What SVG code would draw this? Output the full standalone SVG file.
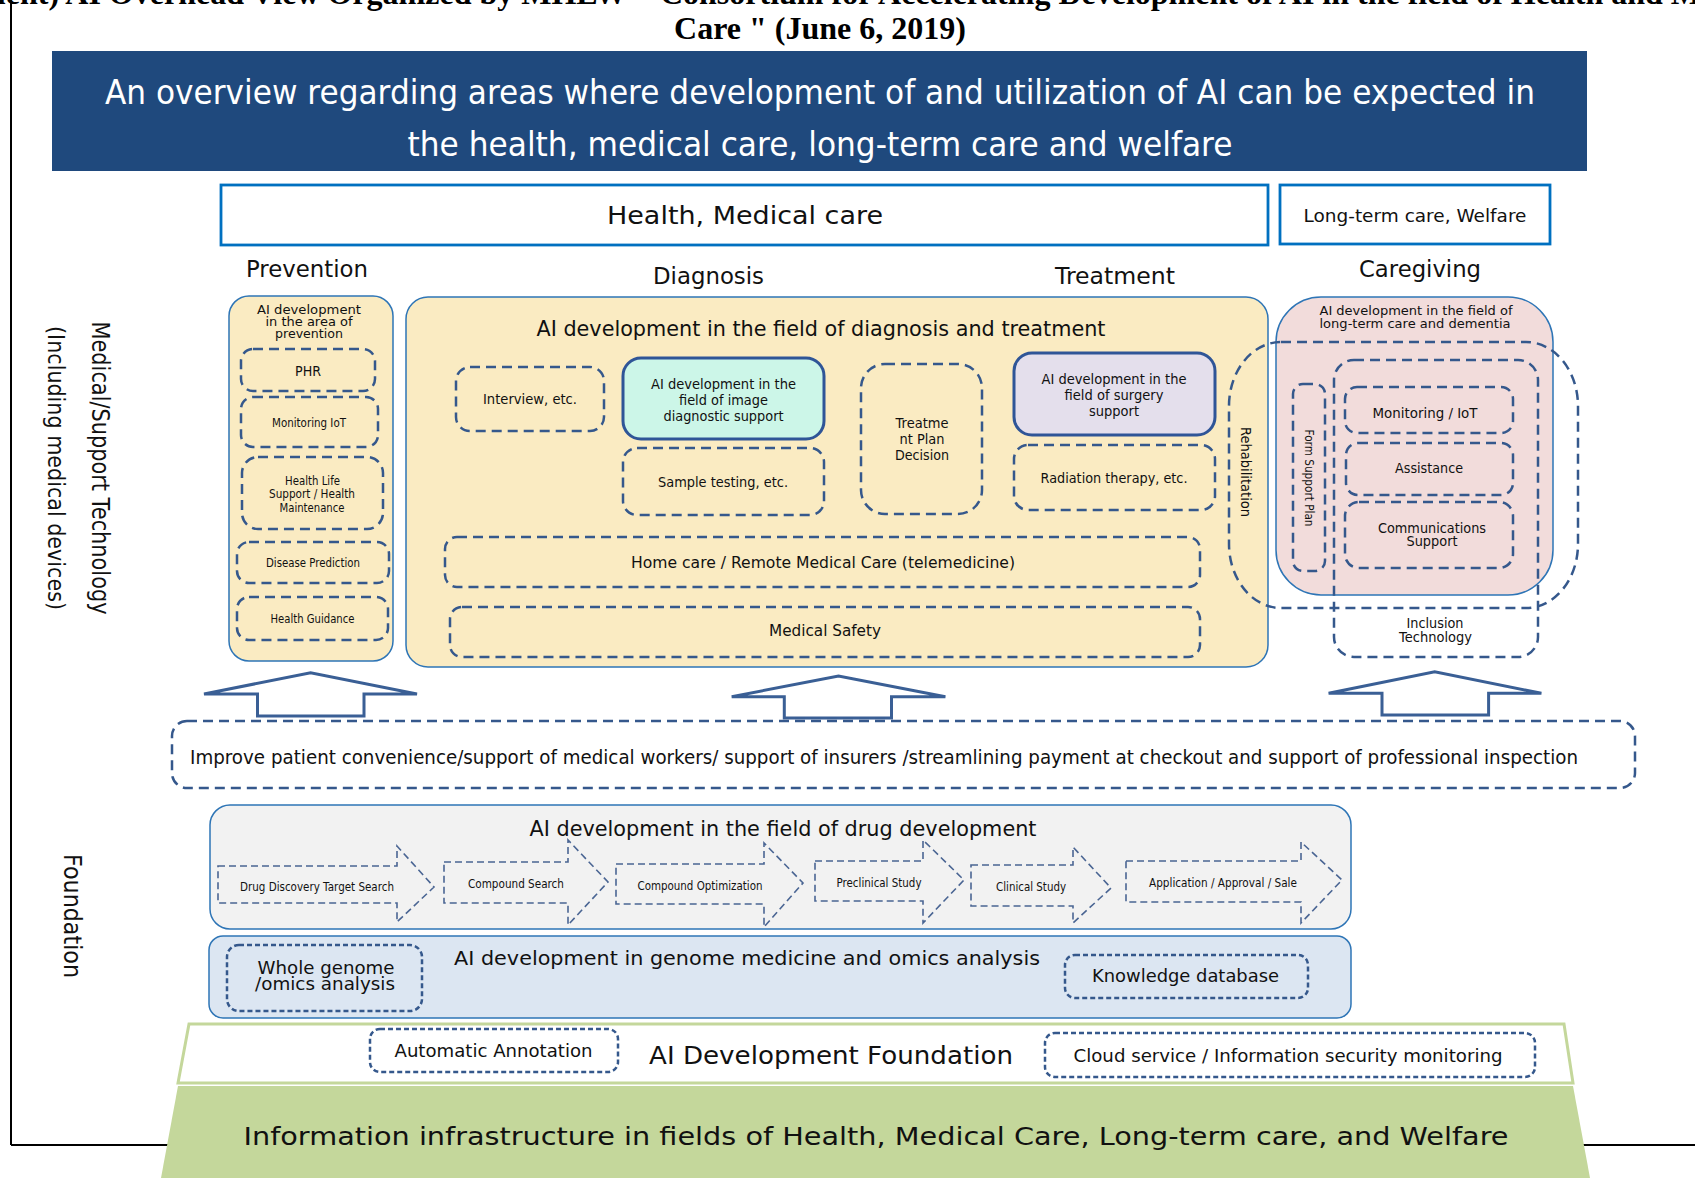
<svg xmlns="http://www.w3.org/2000/svg" width="1695" height="1178" viewBox="0 0 1695 1178">
<style>
.t{font-family:"DejaVu Sans","Noto Sans",sans-serif;fill:#111;}
.w{fill:#fff;}
.ttl{font-family:"Liberation Serif","Times New Roman",serif;font-weight:bold;fill:#000;}
.dash{fill:none;stroke:#35588c;stroke-width:2.5;stroke-dasharray:10 6;}
.fdash{fill:none;stroke:#35588c;stroke-width:2.5;stroke-dasharray:5 3;}
.adash{fill:none;stroke:#4a6593;stroke-width:1.6;stroke-dasharray:7 4;}
.cont{stroke:#2e75b6;stroke-width:1.5;}
.yel{fill:#faebc2;}
.hdr{fill:#fff;stroke:#0070c0;stroke-width:2.8;}
.big{fill:#fff;stroke:#3a5f95;stroke-width:3;}
.solid{stroke:#2f5597;stroke-width:3;}
</style>

<!-- frame -->
<g id="frame" stroke="#000" stroke-width="2" fill="none">
<line x1="11" y1="0" x2="11" y2="1145"/>
<line x1="11" y1="1145" x2="1695" y2="1145"/>
</g>

<!-- title -->
<g id="title">
<text class="ttl" x="-124" y="4" font-size="32">(Attachment) AI Overhead View Organized by MHLW " Consortium for Accelerating Development of AI in the field of Health and Medical</text>
<text class="ttl" x="820" y="39" font-size="32" text-anchor="middle">Care " (June 6, 2019)</text>
</g>

<!-- banner -->
<g id="banner">
<rect x="52" y="51" width="1535" height="120" fill="#1f497d"/>
<text class="t w" x="820" y="104" font-size="33" text-anchor="middle" textLength="1430" lengthAdjust="spacingAndGlyphs">An overview regarding areas where development of and utilization of AI can be expected in</text>
<text class="t w" x="820" y="156" font-size="33" text-anchor="middle" textLength="825" lengthAdjust="spacingAndGlyphs">the health, medical care, long-term care and welfare</text>
</g>

<!-- headers -->
<g id="hdr-health">
<rect class="hdr" x="221" y="185" width="1047" height="60"/>
<text class="t" x="745" y="224" font-size="25" text-anchor="middle" textLength="276" lengthAdjust="spacingAndGlyphs">Health, Medical care</text>
</g>
<g id="hdr-ltc">
<rect class="hdr" x="1280" y="185" width="270" height="59"/>
<text class="t" x="1415" y="222" font-size="18" text-anchor="middle" textLength="223" lengthAdjust="spacingAndGlyphs">Long-term care, Welfare</text>
</g>

<g id="labels">
<text class="t" x="307" y="277" font-size="23" text-anchor="middle" textLength="122" lengthAdjust="spacingAndGlyphs">Prevention</text>
<text class="t" x="708.5" y="284" font-size="23" text-anchor="middle" textLength="111" lengthAdjust="spacingAndGlyphs">Diagnosis</text>
<text class="t" x="1115" y="284" font-size="23" text-anchor="middle" textLength="120" lengthAdjust="spacingAndGlyphs">Treatment</text>
<text class="t" x="1420" y="277" font-size="23" text-anchor="middle" textLength="122" lengthAdjust="spacingAndGlyphs">Caregiving</text>
<text class="t" transform="translate(92,468) rotate(90)" font-size="24" text-anchor="middle" textLength="293" lengthAdjust="spacingAndGlyphs">Medical/Support Technology</text>
<text class="t" transform="translate(48,468) rotate(90)" font-size="23" text-anchor="middle" textLength="284" lengthAdjust="spacingAndGlyphs">(Including medical devices)</text>
<text class="t" transform="translate(64,916) rotate(90)" font-size="24" text-anchor="middle" textLength="124" lengthAdjust="spacingAndGlyphs">Foundation</text>
</g>

<!-- prevention -->
<g id="prevention">
<rect class="yel cont" x="229" y="296" width="164" height="365" rx="20"/>
<text class="t" x="309" y="314" font-size="12.5" text-anchor="middle" textLength="104" lengthAdjust="spacingAndGlyphs">AI development</text>
<text class="t" x="309" y="326" font-size="12.5" text-anchor="middle" textLength="87" lengthAdjust="spacingAndGlyphs">in the area of</text>
<text class="t" x="309" y="337.5" font-size="12.5" text-anchor="middle" textLength="68" lengthAdjust="spacingAndGlyphs">prevention</text>
</g>
<g id="phr"><rect class="dash" x="241" y="349" width="134" height="42" rx="12"/>
<text class="t" x="308" y="376" font-size="14" text-anchor="middle" textLength="26" lengthAdjust="spacingAndGlyphs">PHR</text></g>
<g id="mon-iot"><rect class="dash" x="241" y="397" width="137" height="50" rx="12"/>
<text class="t" x="309" y="427" font-size="12" text-anchor="middle" textLength="74" lengthAdjust="spacingAndGlyphs">Monitoring IoT</text></g>
<g id="health-life"><rect class="dash" x="242" y="457" width="141" height="72" rx="16"/>
<text class="t" x="312.5" y="485" font-size="12" text-anchor="middle" textLength="55" lengthAdjust="spacingAndGlyphs">Health Life</text>
<text class="t" x="312" y="498" font-size="12" text-anchor="middle" textLength="86" lengthAdjust="spacingAndGlyphs">Support / Health</text>
<text class="t" x="312" y="512" font-size="12" text-anchor="middle" textLength="65" lengthAdjust="spacingAndGlyphs">Maintenance</text></g>
<g id="disease"><rect class="dash" x="237" y="542" width="152" height="41" rx="12"/>
<text class="t" x="313" y="567" font-size="12" text-anchor="middle" textLength="94" lengthAdjust="spacingAndGlyphs">Disease Prediction</text></g>
<g id="guidance"><rect class="dash" x="237" y="597" width="151" height="43" rx="12"/>
<text class="t" x="312.5" y="623" font-size="12" text-anchor="middle" textLength="84" lengthAdjust="spacingAndGlyphs">Health Guidance</text></g>

<!-- diagnosis & treatment -->
<g id="diag-treat">
<rect class="yel cont" x="406" y="297" width="862" height="370" rx="22"/>
<text class="t" x="821" y="336" font-size="20.5" text-anchor="middle" textLength="569" lengthAdjust="spacingAndGlyphs">AI development in the field of diagnosis and treatment</text>
</g>
<g id="interview"><rect class="dash" x="456" y="367" width="148" height="64" rx="14"/>
<text class="t" x="530" y="404" font-size="14" text-anchor="middle" textLength="94" lengthAdjust="spacingAndGlyphs">Interview, etc.</text></g>
<g id="image-diag"><rect class="solid" fill="#ccf6e8" x="623" y="358" width="201" height="81" rx="18"/>
<text class="t" x="723.5" y="389" font-size="14" text-anchor="middle" textLength="145" lengthAdjust="spacingAndGlyphs">AI development in the</text>
<text class="t" x="723.5" y="405" font-size="14" text-anchor="middle" textLength="89" lengthAdjust="spacingAndGlyphs">field of image</text>
<text class="t" x="723.5" y="421" font-size="14" text-anchor="middle" textLength="120" lengthAdjust="spacingAndGlyphs">diagnostic support</text></g>
<g id="sample"><rect class="dash" x="623" y="448" width="201" height="67" rx="14"/>
<text class="t" x="723" y="487" font-size="14" text-anchor="middle" textLength="130" lengthAdjust="spacingAndGlyphs">Sample testing, etc.</text></g>
<g id="plan"><rect class="dash" x="861" y="364" width="121" height="150" rx="24"/>
<text class="t" x="922" y="428" font-size="14" text-anchor="middle" textLength="53" lengthAdjust="spacingAndGlyphs">Treatme</text>
<text class="t" x="922" y="444" font-size="14" text-anchor="middle" textLength="45" lengthAdjust="spacingAndGlyphs">nt Plan</text>
<text class="t" x="922" y="460" font-size="14" text-anchor="middle" textLength="54" lengthAdjust="spacingAndGlyphs">Decision</text></g>
<g id="surgery"><rect class="solid" fill="#e4dfec" x="1014" y="353" width="201" height="82" rx="18"/>
<text class="t" x="1114" y="384" font-size="14" text-anchor="middle" textLength="145" lengthAdjust="spacingAndGlyphs">AI development in the</text>
<text class="t" x="1114" y="400" font-size="14" text-anchor="middle" textLength="99" lengthAdjust="spacingAndGlyphs">field of surgery</text>
<text class="t" x="1114" y="416" font-size="14" text-anchor="middle" textLength="50" lengthAdjust="spacingAndGlyphs">support</text></g>
<g id="radiation"><rect class="dash" x="1014" y="445" width="201" height="65" rx="14"/>
<text class="t" x="1114" y="483" font-size="14" text-anchor="middle" textLength="147" lengthAdjust="spacingAndGlyphs">Radiation therapy, etc.</text></g>
<g id="homecare"><rect class="dash" x="445" y="537" width="755" height="50" rx="12"/>
<text class="t" x="823" y="568" font-size="16" text-anchor="middle" textLength="384" lengthAdjust="spacingAndGlyphs">Home care / Remote Medical Care (telemedicine)</text></g>
<g id="safety"><rect class="dash" x="450" y="607" width="750" height="50" rx="12"/>
<text class="t" x="825" y="636" font-size="16" text-anchor="middle" textLength="112" lengthAdjust="spacingAndGlyphs">Medical Safety</text></g>

<!-- caregiving -->
<g id="caregiving">
<rect class="cont" fill="#f2dcdb" x="1276" y="297" width="277" height="298" rx="45"/>
<text class="t" x="1416" y="315" font-size="13" text-anchor="middle" textLength="193" lengthAdjust="spacingAndGlyphs">AI development in the field of</text>
<text class="t" x="1415" y="327.5" font-size="13" text-anchor="middle" textLength="191" lengthAdjust="spacingAndGlyphs">long-term care and dementia</text>
</g>
<g id="rehab"><rect class="dash" x="1229" y="342" width="349" height="266" rx="52" ry="64"/>
<text class="t" transform="translate(1241,472) rotate(90)" font-size="14.5" text-anchor="middle" textLength="90" lengthAdjust="spacingAndGlyphs">Rehabilitation</text></g>
<g id="form-plan"><rect class="dash" x="1293" y="384" width="32" height="187" rx="10"/>
<text class="t" transform="translate(1305,478) rotate(90)" font-size="12" text-anchor="middle" textLength="97" lengthAdjust="spacingAndGlyphs">Form Support Plan</text></g>
<g id="inclusion"><rect class="dash" x="1334" y="360" width="204" height="297" rx="20"/>
<text class="t" x="1435" y="628" font-size="14" text-anchor="middle" textLength="57" lengthAdjust="spacingAndGlyphs">Inclusion</text>
<text class="t" x="1435.5" y="641.5" font-size="14" text-anchor="middle" textLength="73" lengthAdjust="spacingAndGlyphs">Technology</text></g>
<g id="cg-mon"><rect class="dash" x="1345" y="387" width="168" height="46" rx="12"/>
<text class="t" x="1425" y="418" font-size="14.5" text-anchor="middle" textLength="105" lengthAdjust="spacingAndGlyphs">Monitoring / IoT</text></g>
<g id="assist"><rect class="dash" x="1346" y="443" width="167" height="52" rx="12"/>
<text class="t" x="1429" y="473" font-size="14.5" text-anchor="middle" textLength="68" lengthAdjust="spacingAndGlyphs">Assistance</text></g>
<g id="comm"><rect class="dash" x="1345" y="502" width="168" height="66" rx="14"/>
<text class="t" x="1432" y="533" font-size="14.5" text-anchor="middle" textLength="108" lengthAdjust="spacingAndGlyphs">Communications</text>
<text class="t" x="1432" y="546" font-size="14.5" text-anchor="middle" textLength="51" lengthAdjust="spacingAndGlyphs">Support</text></g>

<!-- connectors: block up arrows -->
<g id="connectors">
<polygon class="big" points="204,694 310.6,672.7 417,694 364,694 364,716 257.5,716 257.5,694"/>
<polygon class="big" points="731.7,696.7 838.5,676 945.4,696.7 891.5,696.7 891.5,718 784.3,718 784.3,696.7"/>
<polygon class="big" points="1328.6,693.3 1434.7,671.7 1541.4,693.3 1488.6,693.3 1488.6,715 1382,715 1382,693.3"/>
</g>

<g id="improve"><rect class="dash" x="172" y="721" width="1463" height="67" rx="15"/>
<text class="t" x="884" y="764" font-size="19.5" text-anchor="middle" textLength="1388" lengthAdjust="spacingAndGlyphs">Improve patient convenience/support of medical workers/ support of insurers /streamlining payment at checkout and support of professional inspection</text></g>

<!-- drug development -->
<g id="drug">
<rect class="cont" fill="#f2f2f2" x="210" y="805" width="1141" height="124" rx="20"/>
<text class="t" x="783" y="836" font-size="20.5" text-anchor="middle" textLength="507" lengthAdjust="spacingAndGlyphs">AI development in the field of drug development</text>
</g>
<g id="drug1"><polygon class="adash" points="218,866 397,866 397,846 434,887 397,922 397,903 218,903"/>
<text class="t" x="317" y="891" font-size="11.5" text-anchor="middle" textLength="154" lengthAdjust="spacingAndGlyphs">Drug Discovery Target Search</text></g>
<g id="drug2"><polygon class="adash" points="444,862 568,862 568,840 608,882 568,925 568,903 444,903"/>
<text class="t" x="516" y="888" font-size="11.5" text-anchor="middle" textLength="96" lengthAdjust="spacingAndGlyphs">Compound Search</text></g>
<g id="drug3"><polygon class="adash" points="616,864 764,864 764,843 803,883 764,927 764,904 616,904"/>
<text class="t" x="700" y="890" font-size="11.5" text-anchor="middle" textLength="125" lengthAdjust="spacingAndGlyphs">Compound Optimization</text></g>
<g id="drug4"><polygon class="adash" points="815,861 923,861 923,840 964,880 923,923 923,901 815,901"/>
<text class="t" x="879" y="887" font-size="11.5" text-anchor="middle" textLength="85" lengthAdjust="spacingAndGlyphs">Preclinical Study</text></g>
<g id="drug5"><polygon class="adash" points="971,865 1073,865 1073,847 1111,888 1073,923 1073,906 971,906"/>
<text class="t" x="1031" y="891" font-size="11.5" text-anchor="middle" textLength="70" lengthAdjust="spacingAndGlyphs">Clinical Study</text></g>
<g id="drug6"><polygon class="adash" points="1126,861 1301,861 1301,842 1342,880 1301,923 1301,902 1126,902"/>
<text class="t" x="1223" y="887" font-size="11.5" text-anchor="middle" textLength="148" lengthAdjust="spacingAndGlyphs">Application / Approval / Sale</text></g>

<!-- genome -->
<g id="genome">
<rect class="cont" fill="#dce6f2" x="209" y="936" width="1142" height="82" rx="14"/>
<text class="t" x="747" y="965" font-size="19" text-anchor="middle" textLength="586" lengthAdjust="spacingAndGlyphs">AI development in genome medicine and omics analysis</text>
</g>
<g id="whole-genome"><rect class="fdash" x="227" y="945" width="195" height="66" rx="12"/>
<text class="t" x="326" y="974" font-size="17" text-anchor="middle" textLength="137" lengthAdjust="spacingAndGlyphs">Whole genome</text>
<text class="t" x="325" y="990" font-size="17" text-anchor="middle" textLength="140" lengthAdjust="spacingAndGlyphs">/omics analysis</text></g>
<g id="knowledge"><rect class="fdash" x="1065" y="955" width="243" height="43" rx="10"/>
<text class="t" x="1185.5" y="982" font-size="17" text-anchor="middle" textLength="187" lengthAdjust="spacingAndGlyphs">Knowledge database</text></g>

<!-- AI development foundation -->
<g id="foundation">
<polygon fill="#fff" stroke="#c4d79b" stroke-width="3" points="189,1024 1564,1024 1573,1083 178,1083"/>
<text class="t" x="831" y="1064" font-size="25" text-anchor="middle" textLength="364" lengthAdjust="spacingAndGlyphs">AI Development Foundation</text>
</g>
<g id="annotation"><rect class="fdash" x="370" y="1029" width="248" height="43" rx="10"/>
<text class="t" x="493.5" y="1057" font-size="17" text-anchor="middle" textLength="198" lengthAdjust="spacingAndGlyphs">Automatic Annotation</text></g>
<g id="cloud"><rect class="fdash" x="1045" y="1033" width="490" height="44" rx="10"/>
<text class="t" x="1288" y="1062" font-size="17" text-anchor="middle" textLength="429" lengthAdjust="spacingAndGlyphs">Cloud service / Information security monitoring</text></g>

<!-- infrastructure -->
<g id="infrastructure">
<polygon fill="#c4d79b" points="178,1086 1573,1086 1590,1178 161,1178"/>
<text class="t" x="876" y="1145" font-size="25" text-anchor="middle" textLength="1265" lengthAdjust="spacingAndGlyphs">Information infrastructure in fields of Health, Medical Care, Long-term care, and Welfare</text>
</g>
</svg>
